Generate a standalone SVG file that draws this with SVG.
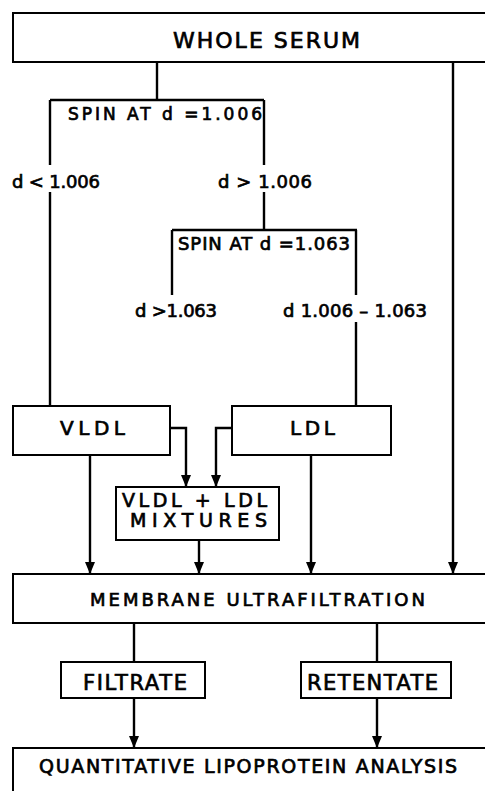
<svg xmlns="http://www.w3.org/2000/svg" width="485" height="791" viewBox="0 0 485 791">
<style>
  .box { fill: #fff; stroke: #000; stroke-width: 2; }
  .ln { fill: none; stroke: #000; stroke-width: 2.4; }
  .t { font-family: "DejaVu Sans", "Liberation Sans", sans-serif; fill: #000; stroke: #000; stroke-width: 0.7; }
</style>
<defs>
  <marker id="arr" viewBox="0 0 12 10" refX="12" refY="5" markerWidth="12" markerHeight="10" markerUnits="userSpaceOnUse" orient="auto">
    <path d="M0,0 L12,5 L0,10 Z" fill="#000"/>
  </marker>
</defs>
<rect width="485" height="791" fill="#fff"/>

<g id="connectors">
  <path class="ln" d="M157,62 V100"/>
  <path class="ln" d="M50,100 V165 M50,192 V406"/>
  <path class="ln" d="M264,100 V165 M264,192 V230"/>
  <path class="ln" d="M172,230 V295"/>
  <path class="ln" d="M356,230 V295 M356,322 V406"/>
  <path class="ln" d="M453,62 V574" marker-end="url(#arr)"/>
  <path class="ln" d="M170,428 H186 V487" marker-end="url(#arr)"/>
  <path class="ln" d="M232,428 H216 V487" marker-end="url(#arr)"/>
  <path class="ln" d="M90,455 V574" marker-end="url(#arr)"/>
  <path class="ln" d="M199,540 V574" marker-end="url(#arr)"/>
  <path class="ln" d="M311,455 V574" marker-end="url(#arr)"/>
  <path class="ln" d="M134,623 V662"/>
  <path class="ln" d="M377,623 V662"/>
  <path class="ln" d="M134,698 V748" marker-end="url(#arr)"/>
  <path class="ln" d="M377,698 V748" marker-end="url(#arr)"/>
</g>

<g id="whole-serum">
  <rect class="box" x="13" y="13" width="480" height="49"/>
  <text class="t" x="173" y="48" font-size="22" textLength="187" lengthAdjust="spacing">WHOLE  SERUM</text>
</g>

<g id="spin-1006">
  <path class="ln" d="M50,100 H264"/>
  <text class="t" x="68" y="120" font-size="17" textLength="194" lengthAdjust="spacing">SPIN AT d =1.006</text>
</g>

<g id="label-lt1006">
  <text class="t" x="12" y="188" font-size="18" textLength="88" lengthAdjust="spacing">d &lt; 1.006</text>
</g>
<g id="label-gt1006">
  <text class="t" x="218" y="188" font-size="18" textLength="94" lengthAdjust="spacing">d &gt; 1.006</text>
</g>

<g id="spin-1063">
  <path class="ln" d="M172,230 H357"/>
  <text class="t" x="178" y="250" font-size="18" textLength="172" lengthAdjust="spacing">SPIN AT d =1.063</text>
</g>

<g id="label-gt1063">
  <text class="t" x="135" y="317" font-size="18" textLength="82" lengthAdjust="spacing">d &gt;1.063</text>
</g>
<g id="label-range">
  <text class="t" x="283" y="317" font-size="18" textLength="144" lengthAdjust="spacing">d 1.006 – 1.063</text>
</g>

<g id="vldl">
  <rect class="box" x="13" y="406" width="157" height="49"/>
  <text class="t" x="60" y="435" font-size="20" textLength="65" lengthAdjust="spacing">VLDL</text>
</g>

<g id="ldl">
  <rect class="box" x="232" y="406" width="159" height="49"/>
  <text class="t" x="290" y="435" font-size="20" textLength="45" lengthAdjust="spacing">LDL</text>
</g>

<g id="mixtures">
  <rect class="box" x="116" y="487" width="163" height="53"/>
  <text class="t" x="122" y="507" font-size="19" textLength="145" lengthAdjust="spacing">VLDL + LDL</text>
  <text class="t" x="130" y="527" font-size="19" textLength="137" lengthAdjust="spacing">MIXTURES</text>
</g>

<g id="membrane">
  <rect class="box" x="13" y="574" width="480" height="49"/>
  <text class="t" x="90" y="606" font-size="18" textLength="335" lengthAdjust="spacing">MEMBRANE  ULTRAFILTRATION</text>
</g>

<g id="filtrate">
  <rect class="box" x="61" y="662" width="144" height="36"/>
  <text class="t" x="83" y="690" font-size="21" textLength="104" lengthAdjust="spacing">FILTRATE</text>
</g>

<g id="retentate">
  <rect class="box" x="301" y="662" width="150" height="36"/>
  <text class="t" x="307" y="690" font-size="21" textLength="131" lengthAdjust="spacing">RETENTATE</text>
</g>

<g id="quantitative">
  <rect class="box" x="13" y="748" width="480" height="60"/>
  <text class="t" x="39" y="773" font-size="19" textLength="418" lengthAdjust="spacing">QUANTITATIVE LIPOPROTEIN ANALYSIS</text>
</g>
</svg>
